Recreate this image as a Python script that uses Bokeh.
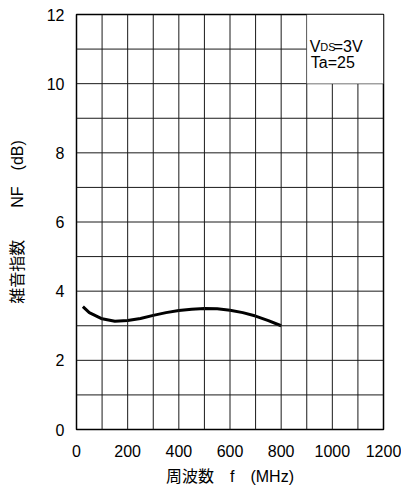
from bokeh.plotting import figure
from bokeh.models import Range1d, FixedTicker, Label, BoxAnnotation, Span
from bokeh.embed import file_html
from bokeh.resources import INLINE

freq = [25, 50, 100, 150, 200, 250, 300, 350, 400, 450, 500, 550, 600, 650, 700, 750, 800]
nf = [3.55, 3.38, 3.2, 3.13, 3.15, 3.21, 3.3, 3.38, 3.44, 3.48, 3.5, 3.49, 3.45, 3.38, 3.28, 3.15, 3.0]
x_ticks = [0, 200, 400, 600, 800, 1000, 1200]
y_ticks = [0, 2, 4, 6, 8, 10, 12]
x_grid = list(range(0, 1201, 100))
y_grid = list(range(0, 13, 1))

FONT = "'Liberation Sans', 'Noto Sans CJK JP'"

p = figure(width=401, height=488, output_backend="svg", toolbar_location=None,
           x_range=Range1d(0, 1200), y_range=Range1d(0, 12),
           min_border_left=76, min_border_right=18, min_border_top=14, min_border_bottom=59)
p.outline_line_color = "black"
p.outline_line_width = 1.5
p.background_fill_color = "white"
p.border_fill_color = "white"

p.xgrid.grid_line_color = None
p.ygrid.grid_line_color = None
for gx in x_grid[1:-1]:
    p.add_layout(Span(location=gx, dimension="height", line_color="#1a1a1a", line_width=1))
for gy in y_grid[1:-1]:
    p.add_layout(Span(location=gy, dimension="width", line_color="#1a1a1a", line_width=1))

# legend box blanking grid
p.add_layout(BoxAnnotation(left=900, right=1200, bottom=10, top=12, fill_color="white", fill_alpha=1,
                           line_color="#1a1a1a", line_width=1))

p.line(freq, nf, line_color="black", line_width=3)

for ax in (p.xaxis, p.yaxis):
    ax.major_tick_line_color = None
    ax.minor_tick_line_color = None
    ax.axis_line_color = None
    ax.major_label_text_font = FONT
    ax.major_label_text_font_size = "16px"
    ax.major_label_text_color = "black"
    ax.axis_label_text_font = FONT
    ax.axis_label_text_font_size = "16px"
    ax.axis_label_text_font_style = "normal"
    ax.axis_label_text_color = "black"
p.xaxis.ticker = FixedTicker(ticks=x_ticks)
p.yaxis.ticker = FixedTicker(ticks=y_ticks)
p.xaxis.major_label_standoff = 9
p.yaxis.major_label_standoff = 6
p.xaxis.axis_label = "周波数　f　(MHz)"
p.yaxis.axis_label = "雑音指数　　NF　(dB)"
p.xaxis.axis_label_standoff = 8
p.yaxis.axis_label_standoff = 18

lab = dict(text_font=FONT, text_color="black", text_baseline="alphabetic")
p.add_layout(Label(x=900, y=11.07, x_offset=3, text="V", text_font_size="16px", **lab))
p.add_layout(Label(x=900, y=11.07, x_offset=13.5, text="DS", text_font_size="11px", **lab))
p.add_layout(Label(x=900, y=11.07, x_offset=27, text="=3V", text_font_size="16px", **lab))
p.add_layout(Label(x=900, y=10.61, x_offset=4, text="Ta=25", text_font_size="16px", **lab))

open("out.html", "w").write(file_html(p, INLINE))
